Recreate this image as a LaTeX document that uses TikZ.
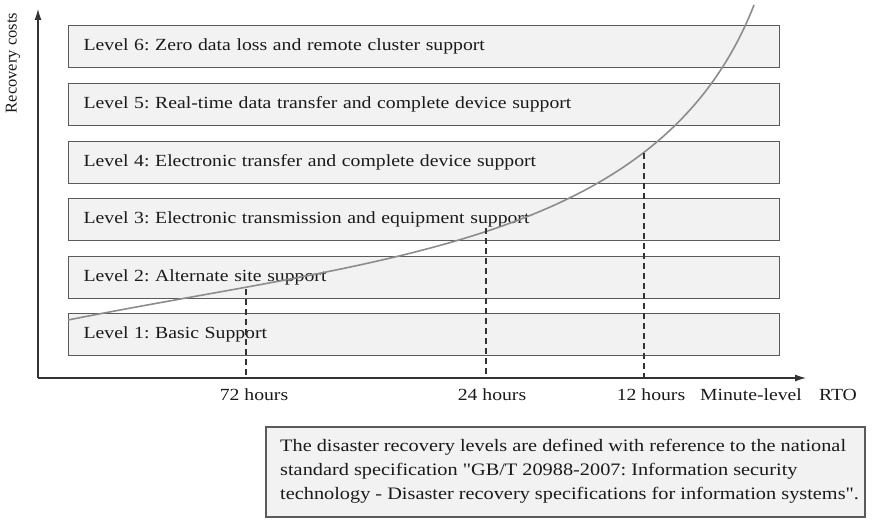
\documentclass[tikz,border=0pt]{standalone}
\usepackage{fontspec}
\setmainfont{Liberation Serif}
\newfontfamily\stretchserif{Liberation Serif}[FakeStretch=1.16]
\newfontfamily\plainserif{Liberation Serif}
\usetikzlibrary{arrows.meta}
\definecolor{boxfill}{HTML}{F2F2F2}
\definecolor{boxborder}{HTML}{5A5A5A}
\definecolor{axiscol}{HTML}{333333}
\definecolor{curvecol}{HTML}{8C8C8C}
\definecolor{txtcol}{HTML}{1A1A1A}
\frenchspacing
\tikzset{
  lvl/.style={draw=boxborder, fill=boxfill, line width=1.3pt, minimum height=42pt,
    text width=681pt, inner xsep=15pt, inner ysep=0pt, align=left, anchor=north west,
    text=txtcol, font=\stretchserif\fontsize{17}{20}\selectfont},
  axislabel/.style={text=txtcol, font=\stretchserif\fontsize{17}{20}\selectfont, inner sep=0pt},
  axisline/.style={draw=axiscol, line width=1.2pt, -{Latex[length=11pt,width=7pt]}},
  guide/.style={draw=axiscol, line width=1.1pt, dash pattern=on 6pt off 4pt},
  notebox/.style={draw=boxborder, fill=boxfill, line width=1.3pt}
}
\begin{document}
\begin{tikzpicture}[x=1pt,y=-1pt]
\useasboundingbox (0,0) rectangle (877,519);
% axes
\coordinate (O) at (38,378);
\coordinate (Ytop) at (38,9);
\coordinate (Xend) at (806,378);
\draw[axisline] (O) -- (Ytop);
\draw[axisline] (O) -- (Xend);
\node[axislabel, rotate=90, font=\plainserif\fontsize{16.5}{20}\selectfont] (ylab) at (13,63) {Recovery costs};
% level boxes
\node[lvl] (L6) at (68,25) {Level 6: Zero data loss and remote cluster support};
\node[lvl] (L5) at (68,83) {Level 5: Real-time data transfer and complete device support};
\node[lvl] (L4) at (68,141) {Level 4: Electronic transfer and complete device support};
\node[lvl] (L3) at (68,198) {Level 3: Electronic transmission and equipment support};
\node[lvl] (L2) at (68,256) {Level 2: Alternate site support};
\node[lvl] (L1) at (68,313) {Level 1: Basic Support};
% curve
\coordinate (C0) at (68,320);
\coordinate (C1) at (754,5);
\draw[curvecol, line width=1.6pt] (C0) .. controls (380,258) and (660,245) .. (C1);
% guides
\coordinate (G72t) at (246,289);
\coordinate (G72b) at (246,378);
\coordinate (G24t) at (486,228);
\coordinate (G24b) at (486,378);
\coordinate (G12t) at (644,153);
\coordinate (G12b) at (644,378);
\draw[guide] (G72t) -- (G72b);
\draw[guide] (G24t) -- (G24b);
\draw[guide] (G12t) -- (G12b);
% axis labels
\node[axislabel] (t72) at (254,395) {72 hours};
\node[axislabel] (t24) at (492,395) {24 hours};
\node[axislabel] (t12) at (651,395) {12 hours};
\node[axislabel] (tmin) at (751,395) {Minute-level};
\node[axislabel] (rto) at (838,395) {RTO};
% note
\draw[notebox] (266,427) rectangle (865,517);
\node[axislabel, anchor=west, align=left, font=\stretchserif\fontsize{17.5}{24}\selectfont] (note) at (280,471)
  {The disaster recovery levels are defined with reference to the national\\
   standard specification "GB/T 20988-2007: Information security\\
   technology - Disaster recovery specifications for information systems".};
\end{tikzpicture}
\end{document}
